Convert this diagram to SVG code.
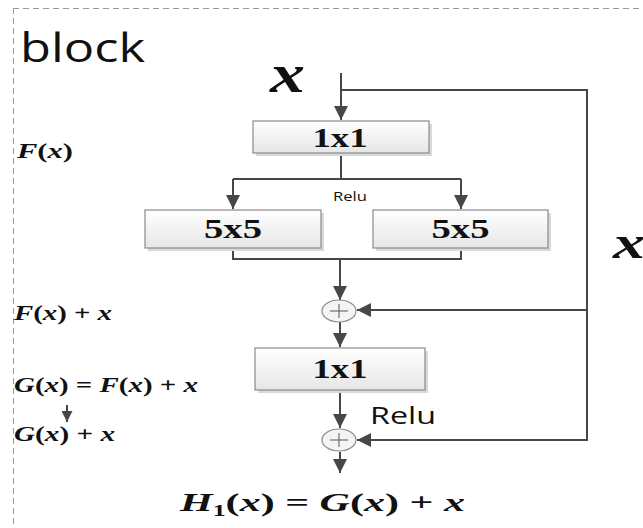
<svg xmlns="http://www.w3.org/2000/svg" width="643" height="528" viewBox="0 0 643 528">
<defs>
<linearGradient id="boxg" x1="0" y1="0" x2="0" y2="1">
<stop offset="0" stop-color="#ffffff"/>
<stop offset="1" stop-color="#e6e6e6"/>
</linearGradient>
<marker id="ahs" viewBox="0 0 10 10" refX="10" refY="5" markerWidth="14" markerHeight="14" markerUnits="userSpaceOnUse" orient="auto">
<path d="M0,0 L10,5 L0,10 Z" fill="#474747"/>
</marker>
<marker id="ahm" viewBox="0 0 10 10" refX="10" refY="5" markerWidth="11" markerHeight="11" markerUnits="userSpaceOnUse" orient="auto">
<path d="M0,0 L10,5 L0,10 Z" fill="#474747"/>
</marker>
</defs>
<style>
.box{fill:url(#boxg);stroke:#8a8a8a;stroke-width:1.2}
.shadow{fill:#d9d9d9}
.lbl{font-family:"Liberation Serif",serif;font-weight:bold;font-size:28px;fill:#111;text-anchor:middle}
.ln{fill:none;stroke:#474747;stroke-width:2}
.math{font-family:"Liberation Serif",serif;font-weight:bold;font-style:italic;fill:#111}
.m20{font-size:20px}
.up{font-style:normal}
.sans{font-family:"Open Sans","DejaVu Sans",sans-serif;fill:#111}
.plus{fill:#f4f4f4;stroke:#8a8a8a;stroke-width:1.2}
</style>
<!-- frame -->
<path d="M13,8.5 H643 M13.5,8 V528" fill="none" stroke="#9a9a9a" stroke-width="1" stroke-dasharray="6 4"/>
<text class="sans" x="20" y="62" font-size="41" textLength="125" lengthAdjust="spacingAndGlyphs">block</text>
<text class="math" x="270" y="92" font-size="54" textLength="35" lengthAdjust="spacingAndGlyphs">x</text>
<text class="math" x="613" y="258" font-size="46" textLength="32" lengthAdjust="spacingAndGlyphs">x</text>

<g id="connectors">
<path class="ln" d="M341,73 V120" marker-end="url(#ahs)"/>
<path class="ln" d="M341,90 H587 V440 H357" marker-end="url(#ahs)"/>
<path class="ln" d="M587,310 H357" marker-end="url(#ahs)"/>
<path class="ln" d="M341,153 V179"/>
<path class="ln" d="M233,179 H461"/>
<path class="ln" d="M233,179 V209" marker-end="url(#ahs)"/>
<path class="ln" d="M461,179 V209" marker-end="url(#ahs)"/>
<path class="ln" d="M233,248 V259 H461 V248"/>
<path class="ln" d="M340,259 V300" marker-end="url(#ahs)"/>
<path class="ln" d="M340,322 V347" marker-end="url(#ahs)"/>
<path class="ln" d="M340,390 V428" marker-end="url(#ahs)"/>
<path class="ln" d="M340,452 V473" marker-end="url(#ahs)"/>
<path class="ln" d="M67,405 V422" marker-end="url(#ahm)"/>
</g>

<g id="conv1a">
<rect class="shadow" x="256" y="124" width="176" height="32"/>
<rect class="box" x="253" y="121" width="176" height="32"/>
<text class="lbl" x="340" y="147" textLength="55" lengthAdjust="spacingAndGlyphs">1x1</text>
</g>
<g id="conv5a">
<rect class="shadow" x="148" y="213" width="176" height="38"/>
<rect class="box" x="145" y="210" width="176" height="38"/>
<text class="lbl" x="233" y="238" textLength="58" lengthAdjust="spacingAndGlyphs">5x5</text>
</g>
<g id="conv5b">
<rect class="shadow" x="376" y="213" width="175" height="38"/>
<rect class="box" x="373" y="210" width="175" height="38"/>
<text class="lbl" x="460.5" y="238" textLength="58" lengthAdjust="spacingAndGlyphs">5x5</text>
</g>
<g id="add1">
<ellipse class="plus" cx="339" cy="311" rx="17" ry="11"/>
<path d="M330,311 H348 M339,304 V318" stroke="#555" stroke-width="1"/>
</g>
<g id="conv1b">
<rect class="shadow" x="258" y="351" width="170" height="42"/>
<rect class="box" x="255" y="348" width="170" height="42"/>
<text class="lbl" x="340" y="378" textLength="55" lengthAdjust="spacingAndGlyphs">1x1</text>
</g>
<g id="add2">
<ellipse class="plus" cx="339" cy="440" rx="17" ry="11"/>
<path d="M330,440 H348 M339,433 V447" stroke="#555" stroke-width="1"/>
</g>

<text class="sans" x="333" y="201" font-size="12" textLength="34" lengthAdjust="spacingAndGlyphs">Relu</text>
<text class="sans" x="370" y="424" font-size="23" textLength="66" lengthAdjust="spacingAndGlyphs">Relu</text>

<text class="math m20" x="17" y="158" textLength="56" lengthAdjust="spacingAndGlyphs">F<tspan class="up">(</tspan>x<tspan class="up">)</tspan></text>
<text class="math m20" x="14" y="320" textLength="98" lengthAdjust="spacingAndGlyphs">F<tspan class="up">(</tspan>x<tspan class="up">) + </tspan>x</text>
<text class="math m20" x="14" y="392" textLength="184" lengthAdjust="spacingAndGlyphs">G<tspan class="up">(</tspan>x<tspan class="up">) = </tspan>F<tspan class="up">(</tspan>x<tspan class="up">) + </tspan>x</text>
<text class="math m20" x="14" y="441" textLength="101" lengthAdjust="spacingAndGlyphs">G<tspan class="up">(</tspan>x<tspan class="up">) + </tspan>x</text>

<text class="math" x="180" y="511" font-size="26" textLength="285" lengthAdjust="spacingAndGlyphs">H<tspan class="up" font-size="16" dy="5">1</tspan><tspan class="up" dy="-5">(</tspan>x<tspan class="up">) = </tspan>G<tspan class="up">(</tspan>x<tspan class="up">) + </tspan>x</text>
</svg>
